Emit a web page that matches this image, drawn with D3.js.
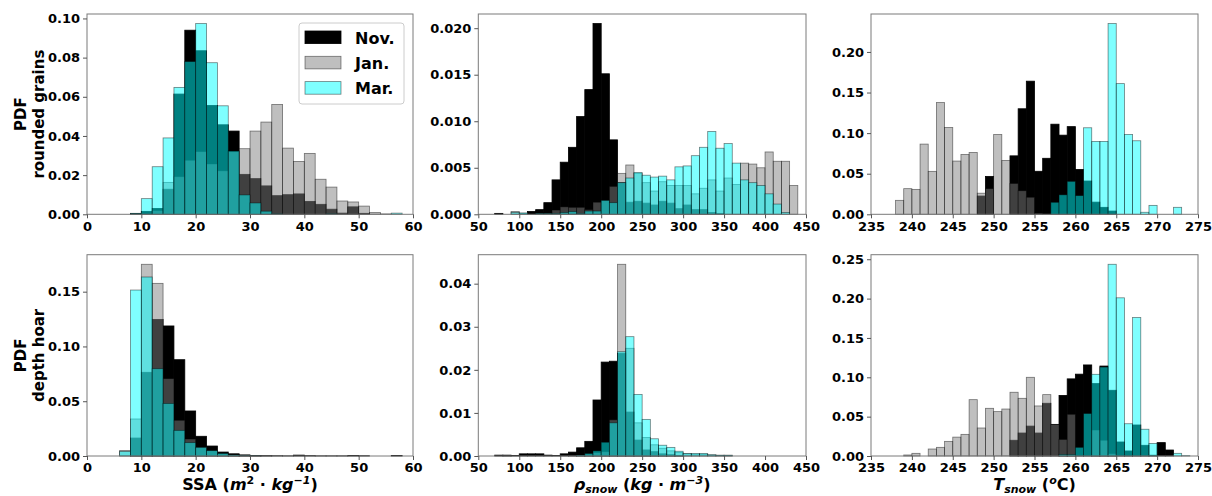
<!DOCTYPE html>
<html><head><meta charset="utf-8">
<script src="https://cdn.jsdelivr.net/npm/d3@7"></script>
<style>body{margin:0;background:#fff}svg{display:block}</style>
</head><body><svg id="c" width="1212" height="496"></svg>
<script>
// ---------------- DATA ----------------
const months = ["Nov.", "Jan.", "Mar."];

// SSA, rounded grains (bin width 2)
const ssaRgBins = [8,10,12,14,16,18,20,22,24,26,28,30,32,34,36,38,40,42,44,46,48,50,52,54,56];
const ssaRgNov = [0.0003,0.0015,0.003,0.0128,0.0614,0.094,0.0835,0.0556,0.0457,0.0425,0.0204,0.0182,0.0145,0.0095,0.0100,0.0104,0.0066,0.0051,0.0026,0.0006,0.0038,0.0005,0,0,0];
const ssaRgJan = [0.0004,0,0.0019,0.0163,0.0192,0.0276,0.032,0.0257,0.0222,0.032,0.0335,0.0425,0.0471,0.0561,0.0338,0.027,0.0311,0.0179,0.0139,0.0068,0.0063,0.0042,0.0009,0.0002,0];
const ssaRgMar = [0.0005,0.008,0.0243,0.039,0.0648,0.078,0.0974,0.0774,0.0554,0.0323,0.0099,0.0058,0.0016,0.0003,0,0,0,0,0.0003,0,0,0,0,0,0.0006];

// density, rounded grains (bin width 10)
const rhoRgBins = [70,80,90,100,110,120,130,140,150,160,170,180,190,200,210,220,230,240,250,260,270,280,290,300,310,320,330,340,350,360,370,380,390,400,410,420,430];
const rhoRgNov = [0.0001,0,0,0,0.0003,0.0005,0.00125,0.0037,0.0056,0.0072,0.0105,0.0134,0.0205,0.0151,0.008,0.0034,0.0013,0.0014,0.0012,0.001,0.0014,0.0012,0.0006,0.001,0.0005,0.0005,0.0002,0.0001,0,0,0,0,0,0,0,0,0];
const rhoRgJan = [0,0,0.0003,0.0001,0,0.0001,0.0001,0.00046,0.0008,0.00075,0.00075,0.0005,0.0013,0.0015,0.003,0.0044,0.0053,0.0044,0.0034,0.0025,0.0035,0.0031,0.0031,0.0031,0.0022,0.0028,0.0037,0.0025,0.0039,0.0032,0.0055,0.0054,0.005,0.0067,0.0057,0.0057,0.0031];
const rhoRgMar = [0,0,0.0002,0.00015,0,0.0001,0.0001,0.0001,0.0002,0.0003,0.0001,0.00035,0.00035,0.0015,0.00125,0.0034,0.0039,0.0045,0.0042,0.004,0.0041,0.0037,0.0051,0.0052,0.0063,0.0072,0.0089,0.0071,0.0076,0.0055,0.0037,0.0034,0.0031,0.0022,0.0011,0.0002,0];

// temperature, rounded grains (bin width 1)
const tRgBins = [238,239,240,241,242,243,244,245,246,247,248,249,250,251,252,253,254,255,256,257,258,259,260,261,262,263,264,265,266,267,268,269,270,271,272,273];
const tRgNov = [0,0,0,0,0,0,0,0,0,0,0.0225,0.0467,0,0,0.072,0.13,0.164,0.053,0.069,0.111,0.0975,0.108,0.0553,0.041,0.015,0.0086,0.004,0,0,0,0,0,0,0,0,0];
const tRgJan = [0.0172,0.0316,0.0307,0.0865,0.0529,0.1377,0.107,0.0656,0.0738,0.0762,0.026,0.0316,0.0984,0.0664,0.038,0.029,0.021,0.0012,0,0,0,0,0,0,0,0,0,0,0,0,0,0,0,0,0,0];
const tRgMar = [0,0,0,0,0,0,0,0,0,0,0,0,0,0,0,0,0,0,0,0.0148,0.024,0.0406,0.023,0.1066,0.0898,0.0898,0.235,0.161,0.0984,0.0906,0.0025,0.011,0,0,0.0086,0];

// SSA, depth hoar (bin width 2)
const ssaDhBins = [6,8,10,12,14,16,18,20,22,24,26,28,30,32,34,36,38,40,42,44,46,48,50,52,54,56];
const ssaDhNov = [0,0.0164,0.0764,0.1247,0.1187,0.0879,0.0411,0.018,0.0091,0.0036,0.002,0.001,0.0005,0.0003,0.0002,0.0001,0.0008,0.0003,0.0001,0.0001,0.0001,0.0005,0.0002,0,0,0.0004];
const ssaDhJan = [0.005,0.0338,0.175,0.1576,0.0706,0.0326,0.0155,0.008,0.005,0.002,0.001,0.0005,0.0003,0.0001,0,0,0,0,0,0,0,0,0,0,0,0];
const ssaDhMar = [0.0042,0.1515,0.1634,0.0797,0.048,0.0234,0.0122,0.0079,0.0049,0.0024,0.001,0.0005,0.0002,0,0,0,0,0,0,0,0,0,0,0,0,0];

// density, depth hoar (bin width 10)
const rhoDhBins = [70,80,90,100,110,120,130,140,150,160,170,180,190,200,210,220,230,240,250,260,270,280,290,300,310,320,330,340,350];
const rhoDhNov = [0.0002,0.0002,0.0001,0.0005,0.0005,0.0005,0.0002,0.0001,0.0005,0.0009,0.0019,0.0034,0.013,0.0218,0.022,0.0238,0.0102,0.0037,0.0014,0.001,0.0005,0.0003,0.0001,0,0,0,0,0,0];
const rhoDhJan = [0,0.0001,0,0,0,0,0,0,0,0.0001,0.0002,0.0004,0.0008,0.001,0.0084,0.0445,0.025,0.0077,0.0043,0.0026,0.0018,0.0012,0.0008,0.0005,0.0004,0.0004,0.0002,0.0001,0.0001];
const rhoDhMar = [0,0,0,0,0,0,0,0,0,0,0.0002,0.0006,0.0012,0.0032,0.0077,0.0242,0.0277,0.0143,0.0085,0.004,0.0025,0.002,0.0011,0.0006,0.0006,0.0006,0.0003,0.0002,0.0002];

// temperature, depth hoar (bin width 1)
const tDhBins = [239,240,241,242,243,244,245,246,247,248,249,250,251,252,253,254,255,256,257,258,259,260,261,262,263,264,265,266,267,268,269,270,271,272,273];
const tDhNov = [0,0,0,0,0,0,0,0,0,0,0,0,0,0.02,0.0292,0.038,0.0292,0.067,0.0402,0.077,0.098,0.104,0.1157,0.092,0.1143,0.0835,0.0178,0.0064,0.0394,0.0136,0.001,0.017,0.0076,0,0];
const tDhJan = [0.0013,0.0034,0,0.0089,0.011,0.0186,0.024,0.0275,0.0716,0.0356,0.0606,0.0564,0.0597,0.081,0.0733,0.1,0.0636,0.078,0.04,0.021,0.053,0,0,0.033,0.02,0.003,0,0,0,0,0,0,0,0,0];
const tDhMar = [0,0,0,0,0,0,0,0,0,0,0,0,0,0,0,0,0,0,0,0.002,0.002,0.011,0.054,0.1038,0.113,0.2436,0.201,0.041,0.176,0.034,0.016,0,0,0.0034,0.0005];

const ssaTicks = [0,10,20,30,40,50,60];
const rhoTicks = [50,100,150,200,250,300,350,400,450];
const tTicks = [235,240,245,250,255,260,265,270,275];

// ---------------- DRAW ----------------
const svg = d3.select("#c");
const FONT = "'DejaVu Sans', sans-serif";
const styles = [
  {fill:"#000000", fo:1, so:1},
  {fill:"#808080", fo:0.5, so:0.5},
  {fill:"#00ffff", fo:0.5, so:0.5}
];

const colL = [87, 478.3, 871], colW = [326, 327.7, 327];
const rowT = [14, 254.7], rowH = [200.3, 201.3];

function panel(c, r, cfg) {
  const L = colL[c], T = rowT[r], Wd = colW[c], Ht = rowH[r];
  const x = d3.scaleLinear().domain(cfg.xd).range([L, L + Wd]);
  const ymax = d3.max(cfg.series.flat()) * 1.05;
  const y = d3.scaleLinear().domain([0, ymax]).range([T + Ht, T]);
  const g = svg.append("g");
  cfg.series.forEach((vals, si) => {
    const st = styles[si];
    g.append("g").selectAll("rect").data(cfg.bins.map((b, i) => ({b, v: vals[i]})).filter(d => d.v > 0))
      .join("rect")
      .attr("x", d => x(d.b)).attr("width", d => x(d.b + cfg.bw) - x(d.b))
      .attr("y", d => y(d.v)).attr("height", d => y(0) - y(d.v))
      .attr("fill", st.fill).attr("fill-opacity", st.fo)
      .attr("stroke", "#000").attr("stroke-opacity", st.so).attr("stroke-width", 0.8);
  });
  // frame
  g.append("rect").attr("x", L).attr("y", T).attr("width", Wd).attr("height", Ht)
    .attr("fill", "none").attr("stroke", "#7a7a7a").attr("stroke-width", 1);
  const xa = g.append("g").attr("transform", `translate(0,${T + Ht})`)
    .call(d3.axisBottom(x).tickValues(cfg.xt).tickFormat(d3.format("d")).tickSize(4).tickPadding(3));
  const ya = g.append("g").attr("transform", `translate(${L},0)`)
    .call(d3.axisLeft(y).tickValues(cfg.yt).tickFormat(d3.format(cfg.yf)).tickSize(4).tickPadding(3));
  [xa, ya].forEach(a => {
    a.select(".domain").remove();
    a.selectAll("line").attr("stroke", "#555");
    a.selectAll("text").attr("fill", "#000").style("font-family", FONT)
      .style("font-weight", "bold").style("font-size", "13px");
  });
  return {x, y};
}

panel(0, 0, {xd:[0,60], xt:ssaTicks, bins:ssaRgBins, bw:2, series:[ssaRgNov, ssaRgJan, ssaRgMar], yt:[0,0.02,0.04,0.06,0.08,0.10], yf:".2f"});
panel(1, 0, {xd:[50,450], xt:rhoTicks, bins:rhoRgBins, bw:10, series:[rhoRgNov, rhoRgJan, rhoRgMar], yt:[0,0.005,0.01,0.015,0.02], yf:".3f"});
panel(2, 0, {xd:[235,275], xt:tTicks, bins:tRgBins, bw:1, series:[tRgNov, tRgJan, tRgMar], yt:[0,0.05,0.1,0.15,0.2], yf:".2f"});
panel(0, 1, {xd:[0,60], xt:ssaTicks, bins:ssaDhBins, bw:2, series:[ssaDhNov, ssaDhJan, ssaDhMar], yt:[0,0.05,0.1,0.15], yf:".2f"});
panel(1, 1, {xd:[50,450], xt:rhoTicks, bins:rhoDhBins, bw:10, series:[rhoDhNov, rhoDhJan, rhoDhMar], yt:[0,0.01,0.02,0.03,0.04], yf:".2f"});
panel(2, 1, {xd:[235,275], xt:tTicks, bins:tDhBins, bw:1, series:[tDhNov, tDhJan, tDhMar], yt:[0,0.05,0.1,0.15,0.2,0.25], yf:".2f"});

// y labels
function ylab(cy, l2) {
  [["PDF", 26], [l2, 44]].forEach(([t, bx]) => {
    svg.append("text").attr("transform", `translate(${bx},${cy}) rotate(-90)`)
      .attr("text-anchor", "middle").style("font-family", FONT).style("font-weight", "bold")
      .style("font-size", "15px").text(t);
  });
}
ylab(rowT[0] + rowH[0] / 2, "rounded grains");
ylab(rowT[1] + rowH[1] / 2, "depth hoar");

// x labels
function xlab(c, parts) {
  const t = svg.append("text").attr("x", colL[c] + colW[c] / 2).attr("y", 490)
    .attr("text-anchor", "middle").style("font-family", FONT).style("font-weight", "bold").style("font-size", "16px");
  parts.forEach(p => {
    const s = t.append("tspan").text(p.t);
    if (p.i) s.style("font-style", "italic");
    if (p.dy) s.attr("dy", p.dy);
    if (p.fs) s.style("font-size", p.fs);
  });
}
xlab(0, [{t:"SSA ("}, {t:"m", i:1}, {t:"2", fs:"11px", dy:-6}, {t:" · ", dy:6}, {t:"kg", i:1}, {t:"−1", i:1, fs:"11px", dy:-6}, {t:")", dy:6}]);
xlab(1, [{t:"ρ", i:1}, {t:"snow", i:1, fs:"11px", dy:3}, {t:" (", dy:-3}, {t:"kg", i:1}, {t:" · "}, {t:"m", i:1}, {t:"−3", i:1, fs:"11px", dy:-6}, {t:")", dy:6}]);
xlab(2, [{t:"T", i:1}, {t:"snow", i:1, fs:"11px", dy:3}, {t:" (", dy:-3}, {t:"o", i:1, fs:"11px", dy:-6}, {t:"C)", dy:6}]);

// legend
const lg = svg.append("g");
lg.append("rect").attr("x", 299).attr("y", 23).attr("width", 105).attr("height", 81).attr("rx", 3)
  .attr("fill", "#fff").attr("fill-opacity", 0.8).attr("stroke", "#ccc");
months.forEach((m, i) => {
  const st = styles[i];
  const yy = 31 + i * 25.3;
  lg.append("rect").attr("x", 305).attr("y", yy).attr("width", 36).attr("height", 12.6)
    .attr("fill", st.fill).attr("fill-opacity", st.fo).attr("stroke", "#000").attr("stroke-opacity", st.so).attr("stroke-width", 0.8);
  lg.append("text").attr("x", 355).attr("y", yy + 12.5).style("font-family", FONT)
    .style("font-weight", "bold").style("font-size", "16px").text(m);
});
</script></body></html>
